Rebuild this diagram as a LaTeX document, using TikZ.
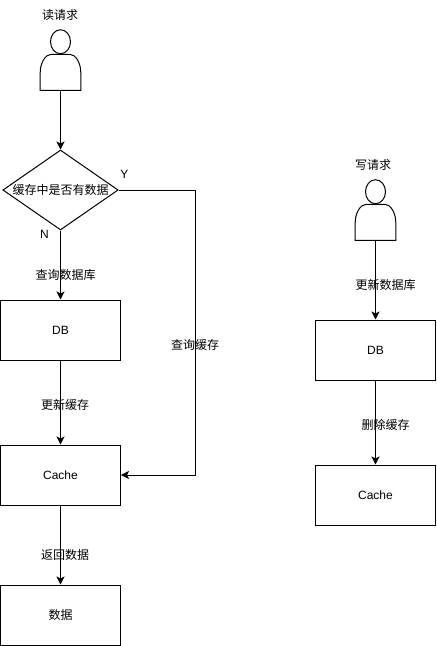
\documentclass[tikz,border=0pt]{standalone}
\usepackage{fontspec}
\setmainfont{Noto Sans CJK SC}
\newfontfamily\latinfont{Liberation Sans}
\usetikzlibrary{arrows.meta,positioning,shapes.geometric}

\begin{document}
\begin{tikzpicture}[
		x=0.75pt, y=-0.75pt,
		arrow/.style={-{Stealth[length=6pt,width=6pt,inset=1.5pt]}, line width=0.75pt},
		block/.style={draw, line width=0.75pt, fill=white, minimum height=45pt, minimum width=90pt, inner sep=0pt, align=center, font=\fontsize{9}{11}\selectfont\latinfont},
		textblock/.style={block, font=\fontsize{9}{11}\selectfont},
		decision/.style={draw, line width=0.75pt, diamond, aspect=1.44, minimum height=60pt, minimum width=86.5pt, inner sep=0pt, font=\fontsize{9}{11}\selectfont},
		label/.style={inner sep=0pt, font=\fontsize{9}{11}\selectfont},
		letter/.style={inner sep=0pt, font=\fontsize{9}{11}\selectfont\latinfont},
		person/.style={minimum width=30pt, minimum height=45pt, inner sep=0pt},
	]
		\useasboundingbox (0,0) rectangle (436,646);

		% read path
		\node[person] (reader) at (60.5,60) {};
		\node[decision] (check) at (60.5,190) {};
		\node[label] (checktext) at (check.center) {缓存中是否有数据};
		\node[block] (db1) at (60.5,330) {DB};
		\node[block] (cache1) at (60.5,475) {Cache};
		\node[textblock] (data) at (60.5,615) {数据};
		\coordinate (turn1) at (195,190);
		\coordinate (turn2) at (195,475);

		% write path
		\node[person] (writer) at (375.5,210) {};
		\node[block] (db2) at (375.5,350) {DB};
		\node[block] (cache2) at (375.5,495) {Cache};

		% the two persons
		\foreach \who in {reader,writer} {
			\draw[line width=0.75pt] (\who.south west) -- (\who.south east)
				-- ([shift={(0,-18)}]\who.south east)
				.. controls ([shift={(0,-27)}]\who.south east) and ([shift={(-5,-36)}]\who.south east) .. ([shift={(-11,-36)}]\who.south east)
				-- ([shift={(11,-36)}]\who.south west)
				.. controls ([shift={(5,-36)}]\who.south west) and ([shift={(0,-27)}]\who.south west) .. ([shift={(0,-18)}]\who.south west)
				-- cycle;
			\draw[line width=0.75pt] ([shift={(0,12)}]\who.north) circle[x radius=10, y radius=12];
		}

		\node[label] (readtext) at (60,14.5) {读请求};
		\node[label] (writetext) at (373,164.5) {写请求};
		\node[letter] (yes) at (124.5,174.5) {Y};
		\node[letter] (no) at (44.5,234.5) {N};
		\node[label] (querydb) at (65.5,274.5) {查询数据库};
		\node[label] (update) at (65,404.5) {更新缓存};
		\node[label] (back) at (65,554.5) {返回数据};
		\node[label] (querycache) at (195,344.5) {查询缓存};
		\node[label] (updatedb) at (385.5,284.5) {更新数据库};
		\node[label] (delete) at (385.5,424.5) {删除缓存};

		\draw[arrow] (reader) -- (check);
		\draw[arrow] (check) -- (db1);
		\draw[arrow] (db1) -- (cache1);
		\draw[arrow] (cache1) -- (data);
		\draw[arrow] (check) -- (turn1) -- (turn2) -- (cache1);
		\draw[arrow] (writer) -- (db2);
		\draw[arrow] (db2) -- (cache2);
	\end{tikzpicture}
\end{document}
